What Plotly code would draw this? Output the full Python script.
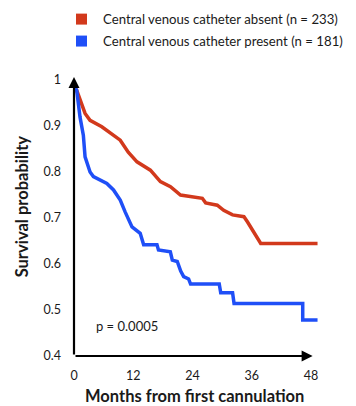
import plotly.graph_objects as go

# Survival curves (months, survival probability)
absent_months = [0, 0.55, 2.24, 3.25, 5.63, 8.68, 9.36, 10.98, 12.75, 15.46, 17.49, 19.53,
                 21.56, 25.97, 26.65, 29.0, 30.3, 32.1, 34.4, 35.1, 36.1, 36.8, 37.8, 49.3]
absent_surv = [0.985, 0.976, 0.926, 0.911, 0.897, 0.875, 0.868, 0.842, 0.821, 0.803, 0.778, 0.767,
               0.749, 0.742, 0.732, 0.727, 0.716, 0.706, 0.702, 0.691, 0.673, 0.659, 0.644, 0.644]

present_months = [0, 0.55, 1.22, 1.89, 2.24, 2.64, 3.25, 3.93, 5.29, 6.65, 8.0, 9.36, 10.37,
                  11.74, 13.4, 14.1, 16.8, 17.1, 19.5, 19.9, 20.9, 21.6, 22.2, 23.2, 23.6,
                  29.4, 29.7, 32.1, 32.4, 46.3, 46.3, 49.3]
present_surv = [0.985, 0.976, 0.918, 0.879, 0.832, 0.818, 0.799, 0.789, 0.781, 0.774, 0.760, 0.738, 0.712,
                0.680, 0.666, 0.641, 0.641, 0.630, 0.626, 0.608, 0.605, 0.584, 0.572, 0.567, 0.556,
                0.556, 0.537, 0.537, 0.514, 0.514, 0.478, 0.478]

x_ticks = [0, 12, 24, 36, 48]
x_tick_labels = ["0", "12", "24", "36", "48"]
y_ticks = [0.4, 0.5, 0.6, 0.7, 0.8, 0.9, 1.0]
y_tick_labels = ["0.4", "0.5", "0.6", "0.7", "0.8", "0.9", "1"]

series_names = ["Central venous catheter absent (n = 233)",
                "Central venous catheter present (n = 181)"]
RED = "#d2391c"
BLUE = "#1f4ff7"
FONT = "Lato, Open Sans, sans-serif"
TXT = "#1a1a1a"

fig = go.Figure()
fig.add_trace(go.Scatter(x=absent_months, y=absent_surv, mode="lines",
                         line=dict(color=RED, width=3.5), name=series_names[0],
                         showlegend=False, cliponaxis=False))
fig.add_trace(go.Scatter(x=present_months, y=present_surv, mode="lines",
                         line=dict(color=BLUE, width=3.5), name=series_names[1],
                         showlegend=False, cliponaxis=False))

# page body adds an 8px offset; work in screen coordinates and subtract it
OFF = 8
W, H = 356 - OFF, 406 - OFF
L = 74 - OFF
T = 76.5 - OFF
B = H - (356 - OFF)
R = W - (321.5 - OFF)
pw, ph = W - L - R, H - T - B

def px2paper(sx, sy):
    fx, fy = sx - OFF, sy - OFF
    return (fx - L) / pw, (H - B - fy) / ph

# axis arrows
fig.add_annotation(x=48.3, y=0.4, ax=0, ay=0.4, xref="x", yref="y", axref="x", ayref="y",
                   showarrow=True, arrowhead=2, arrowsize=1, arrowwidth=2.2,
                   arrowcolor="black", text="")
fig.add_annotation(x=0, y=1.005, ax=0, ay=0.4, xref="x", yref="y", axref="x", ayref="y",
                   showarrow=True, arrowhead=2, arrowsize=1, arrowwidth=2.2,
                   arrowcolor="black", text="")

# legend
for i, (name, col) in enumerate(zip(series_names, [RED, BLUE])):
    cy = 18.5 + 22 * i
    x0, y0 = px2paper(76, cy + 5.5)
    x1, y1 = px2paper(87, cy - 5.5)
    fig.add_shape(type="rect", xref="paper", yref="paper", x0=x0, y0=y0, x1=x1, y1=y1,
                  fillcolor=col, line=dict(width=0))
    tx, ty = px2paper(101, cy)
    fig.add_annotation(x=tx, y=ty, xref="paper", yref="paper", text=name, showarrow=False,
                       xanchor="left", yanchor="middle", font=dict(family=FONT, size=13.2, color=TXT))

# p value
tx, ty = px2paper(94, 326)
fig.add_annotation(x=tx, y=ty, xref="paper", yref="paper", text="p = 0.0005", showarrow=False,
                   xanchor="left", yanchor="middle", font=dict(family=FONT, size=13, color=TXT))

# axis titles
tx, ty = px2paper(22, 206)
fig.add_annotation(x=tx, y=ty, xref="paper", yref="paper", text="<b>Survival probability</b>",
                   showarrow=False, textangle=-90, xanchor="center", yanchor="middle",
                   font=dict(family=FONT, size=16.5, color=TXT))
tx, ty = px2paper(195, 396)
fig.add_annotation(x=tx, y=ty, xref="paper", yref="paper", text="<b>Months from first cannulation</b>",
                   showarrow=False, xanchor="center", yanchor="middle",
                   font=dict(family=FONT, size=16.5, color=TXT))

fig.update_layout(
    width=W, height=H, margin=dict(l=L, r=R, t=T, b=B),
    paper_bgcolor="white", plot_bgcolor="white",
    font=dict(family=FONT, size=12, color=TXT),
    xaxis=dict(range=[0, 50], tickvals=x_ticks, ticktext=x_tick_labels, showgrid=False,
               zeroline=False, showline=False, ticks="", ticklabelstandoff=10,
               tickfont=dict(family=FONT, size=12.5, color=TXT)),
    yaxis=dict(range=[0.4, 1.005], tickvals=y_ticks, ticktext=y_tick_labels, showgrid=False,
               zeroline=False, showline=False, ticks="", ticklabelstandoff=12,
               tickfont=dict(family=FONT, size=12.5, color=TXT)),
)

fig.write_html("out.html")
